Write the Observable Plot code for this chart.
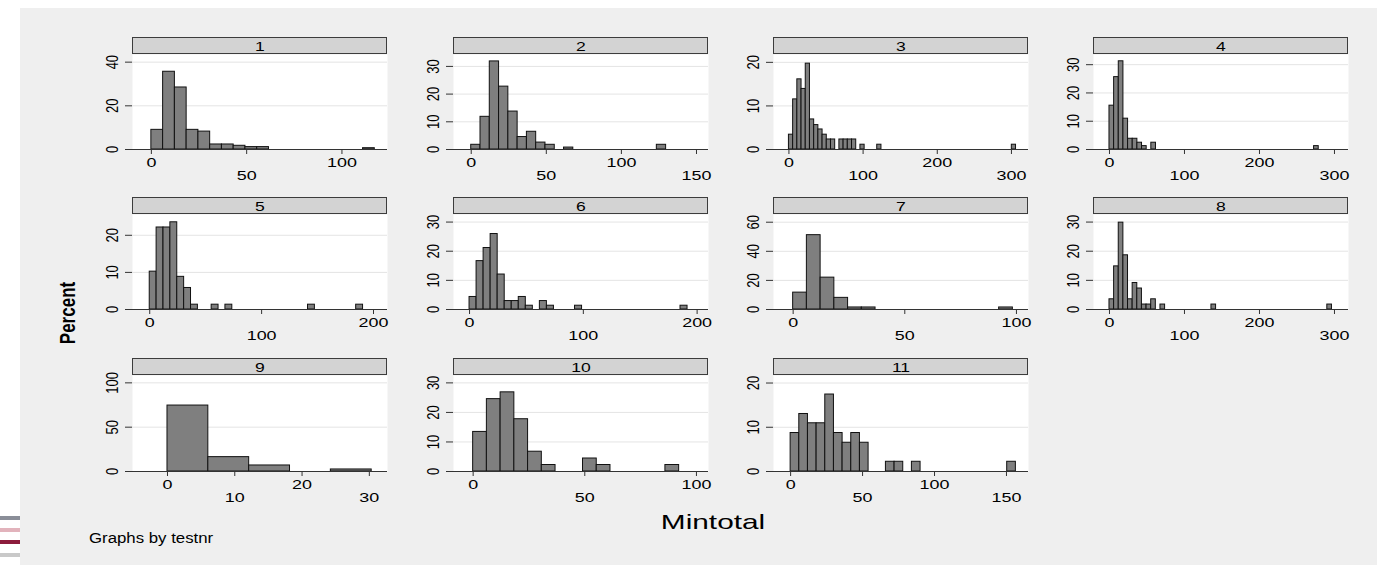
<!DOCTYPE html>
<html>
<head>
<meta charset="utf-8">
<script src="https://cdn.jsdelivr.net/npm/d3@7"></script>
<script src="https://cdn.jsdelivr.net/npm/@observablehq/plot@0.6"></script>
<style>
html,body{margin:0;padding:0;background:#fff;}
#root{position:relative;width:1377px;height:565px;overflow:hidden;background:#fff;font-family:"Liberation Sans",Arial,sans-serif;color:#000;}
#bg{position:absolute;left:20px;top:8px;width:1357px;height:557px;background:#efefef;}
.strip{position:absolute;height:17px;box-sizing:border-box;background:#d3d3d3;border:1px solid #3c3c3c;}
.strip span{position:absolute;left:50%;top:50%;font-size:13px;line-height:13px;transform:translate(-50%,-50%) scaleX(1.35);}
.panel{position:absolute;}
.lbl{position:absolute;white-space:nowrap;}
.bar{position:absolute;left:0;width:20px;height:4px;}
</style>
</head>
<body>
<div id="root">
  <div id="bg"></div>
  <div class="bar" style="top:516px;background:#8a8e98"></div>
  <div class="bar" style="top:528px;background:#e2b3bc"></div>
  <div class="bar" style="top:540px;background:#8c1c3c"></div>
  <div class="bar" style="top:553px;background:#c9c9c9"></div>
</div>
<script>
// ---- data (percent per bin) ----
const panelIds = ["1","2","3","4","5","6","7","8","9","10","11"];
const binWidths = [6.17, 6.18, 5.67, 6.2, 6.15, 6.18, 6.15, 6.18, 6.07, 6.15, 6.02];

const pct1  = [9.0, 35.6, 28.4, 9.0, 8.2, 2.3, 2.3, 1.7, 1.1, 1.1];
const pct2  = [1.7, 11.8, 31.8, 22.7, 13.7, 4.5, 6.4, 2.5, 1.7, 0, 0.7];
const pct3  = [3.4, 11.5, 16.1, 13.9, 19.7, 6.9, 5.6, 4.6, 3.4, 2.3, 2.3, 0, 2.3, 2.3, 2.3, 2.3];
const pct4  = [15.5, 25.6, 31.2, 10.9, 3.8, 3.8, 2.4, 1.2, 0, 2.4];
const pct5  = [10.2, 22.1, 22.1, 23.5, 8.8, 5.8, 1.3];
const pct6  = [4.3, 16.6, 21.1, 25.9, 12.0, 2.9, 2.9, 4.3, 1.3, 0, 2.9, 1.3];
const pct7  = [11.6, 51.1, 21.9, 8.0, 1.4, 1.4];
const pct8  = [3.5, 14.8, 29.8, 18.6, 3.5, 9.1, 7.2, 1.7, 1.7, 3.5, 0, 1.7];
const pct9  = [74.4, 16.2, 6.8, 0, 2.3];
const pct10 = [13.4, 24.5, 26.8, 17.7, 6.7, 2.2, 0, 0, 4.4, 2.2];
const pct11 = [8.7, 13.0, 10.9, 10.9, 17.4, 8.7, 6.5, 8.7, 6.5, 0, 0, 2.2, 2.2, 0, 2.2];

// isolated far bins: [bin index, percent]
const far1  = [[18, 0.6]];
const far2  = [[20, 1.7]];
const far3  = [[17, 1.1], [21, 1.1], [53, 1.1]];
const far4  = [[44, 1.2]];
const far5  = [[9, 1.3], [11, 1.3], [23, 1.3], [30, 1.3]];
const far6  = [[15, 1.3], [30, 1.3]];
const far7  = [[15, 1.4]];
const far8  = [[22, 1.7], [47, 1.7]];
const far9  = [];
const far10 = [[14, 2.2]];
const far11 = [[25, 2.2]];

const xRanges = [[-9.9,123.9],[-11.8,158],[-20.8,323],[-21.3,318.7],[-15.4,212.5],[-14.1,210],[-8.8,105.4],[-21.3,318.7],[-5.2,32.7],[-8.8,105.4],[-11.9,165.3]];
const yMaxes = [43.5, 34.3, 21.8, 33.6, 25.6, 32.6, 65.3, 32.6, 108.3, 32.5, 21.7];
const xTickLabels = [[0,50,100],[0,50,100,150],[0,100,200,300],[0,100,200,300],[0,100,200],[0,100,200],[0,50,100],[0,100,200,300],[0,10,20,30],[0,50,100],[0,50,100,150]];
const yTickLabels = [[0,20,40],[0,10,20,30],[0,10,20],[0,10,20,30],[0,10,20],[0,10,20,30],[0,20,40,60],[0,10,20,30],[0,50,100],[0,10,20,30],[0,10,20]];

const xTitle = "Mintotal";
const yTitle = "Percent";
const note = "Graphs by testnr";

// ---- layout ----
const pcts = [pct1,pct2,pct3,pct4,pct5,pct6,pct7,pct8,pct9,pct10,pct11];
const fars = [far1,far2,far3,far4,far5,far6,far7,far8,far9,far10,far11];
const colLefts = [132, 453, 773, 1093];
const stripTops = [37, 197, 358];
const plotHeights = [95, 95, 96];
const PW = 255, ML = 45, MR = 14, MB = 45, SH = 17;
const STRETCH = 1.38;
const root = document.getElementById("root");

function stretchText(el, s) {
  const t = el.getAttribute("transform") || "";
  if (t.includes("rotate")) el.setAttribute("transform", t.replace("rotate", `scale(${s},1) rotate`));
  else el.setAttribute("transform", t + ` scale(${s},1)`);
}

panelIds.forEach((id, i) => {
  const col = i % 4, row = Math.floor(i / 4);
  const w = binWidths[i];
  const rows = [];
  pcts[i].forEach((p, k) => { if (p > 0) rows.push({x1: k * w, x2: (k + 1) * w, pct: p}); });
  fars[i].forEach(([k, p]) => rows.push({x1: k * w, x2: (k + 1) * w, pct: p}));
  const evenT = xTickLabels[i].filter((_, j) => j % 2 === 0);
  const oddT = xTickLabels[i].filter((_, j) => j % 2 === 1);
  const PH = plotHeights[row];

  const strip = document.createElement("div");
  strip.className = "strip";
  strip.style.left = colLefts[col] + "px";
  strip.style.top = stripTops[row] + "px";
  strip.style.width = PW + "px";
  const sp = document.createElement("span");
  sp.textContent = id;
  strip.appendChild(sp);
  root.appendChild(strip);

  const svg = Plot.plot({
    width: PW + ML + MR,
    height: PH + MB,
    marginLeft: ML, marginRight: MR, marginTop: 0, marginBottom: MB,
    x: {domain: xRanges[i], label: null},
    y: {domain: [0, yMaxes[i]], label: null},
    style: {background: "transparent", fontFamily: "'Liberation Sans', Arial, sans-serif", fontSize: "13px", color: "#000", overflow: "visible"},
    marks: [
      Plot.frame({fill: "white", stroke: null}),
      Plot.gridY(yTickLabels[i].filter(t => t > 0), {stroke: "#e4e4e4", strokeOpacity: 1}),
      Plot.rectY(rows, {x1: "x1", x2: "x2", y: "pct", fill: "#7f7f7f", stroke: "#111", strokeWidth: 1}),
      Plot.ruleY([0], {stroke: "#333", strokeWidth: 1}),
      Plot.axisX({ticks: evenT, tickSize: 5, tickPadding: 3, label: null, stroke: "#333"}),
      Plot.axisX({ticks: oddT, tickSize: 5, tickPadding: 16, label: null, stroke: "#333"}),
      Plot.axisY({ticks: yTickLabels[i], tickSize: 7, tickPadding: 8, tickRotate: -90, label: null, stroke: "#333"})
    ]
  });
  d3.select(svg).selectAll('g[aria-label="x-axis tick label"] text').each(function() { stretchText(this, STRETCH); });
  d3.select(svg).selectAll('g[aria-label="y-axis tick label"] text').each(function() { stretchText(this, 1.2); });
  svg.classList.add("panel");
  svg.style.left = (colLefts[col] - ML) + "px";
  svg.style.top = (stripTops[row] + SH) + "px";
  root.appendChild(svg);
});

function addLabel(text, css) {
  const d = document.createElement("div");
  d.className = "lbl";
  d.textContent = text;
  Object.assign(d.style, css);
  root.appendChild(d);
}
addLabel(xTitle, {left: "713px", top: "521px", fontSize: "21px", lineHeight: "21px", transform: "translate(-50%,-50%) scaleX(1.42)"});
addLabel(yTitle, {left: "68px", top: "313px", fontSize: "17px", lineHeight: "17px", fontWeight: "bold", transform: "translate(-50%,-50%) scaleX(1.3) rotate(-90deg)"});
addLabel(note, {left: "89px", top: "538px", fontSize: "14px", lineHeight: "14px", transformOrigin: "0 50%", transform: "translateY(-50%) scaleX(1.2)"});
</script>
</body>
</html>
